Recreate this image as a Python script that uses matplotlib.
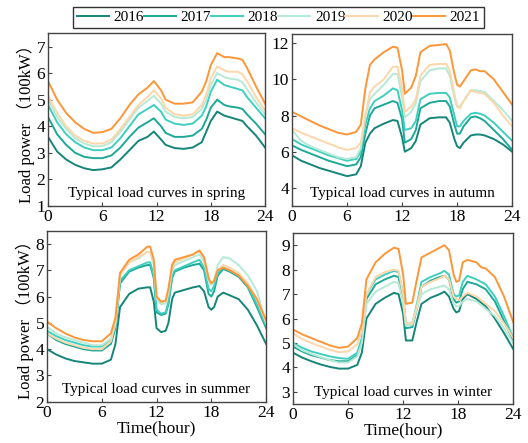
import numpy as np
import matplotlib
matplotlib.use("Agg")
import matplotlib.pyplot as plt

plt.rcParams['font.family'] = ['Liberation Serif', 'Noto Sans CJK SC']
plt.rcParams['mathtext.fontset'] = 'stix'

years = ["2016", "2017", "2018", "2019", "2020", "2021"]
colors = ["#15857a", "#1ea898", "#3ecfbf", "#b6e9d6", "#fdd6aa", "#fd9638"]

### spring ###
x_spring = [0, 1, 2, 3, 4, 5, 6, 7, 8, 9, 10, 11, 11.7, 12.5, 13, 14, 15, 16, 17, 17.5,
            18, 18.7, 19.5, 20, 21, 21.5, 22, 23, 24]
spring = [
    [3.6, 3.05, 2.75, 2.55, 2.42, 2.35, 2.38, 2.45, 2.75, 3.1, 3.45, 3.6, 3.8, 3.5, 3.3, 3.18, 3.15, 3.2, 3.4, 3.8, 4.2, 4.55, 4.4, 4.35, 4.25, 4.2, 4.0, 3.65, 3.2],
    [4.35, 3.7, 3.3, 3.0, 2.85, 2.8, 2.8, 2.9, 3.2, 3.6, 3.95, 4.15, 4.3, 4.0, 3.75, 3.6, 3.6, 3.65, 3.9, 4.25, 4.7, 5.0, 4.8, 4.75, 4.7, 4.65, 4.45, 4.1, 3.7],
    [4.8, 4.15, 3.7, 3.4, 3.2, 3.1, 3.1, 3.2, 3.55, 4.0, 4.45, 4.65, 4.8, 4.55, 4.25, 4.1, 4.05, 4.1, 4.4, 4.75, 5.3, 5.75, 5.55, 5.5, 5.4, 5.35, 5.1, 4.7, 4.3],
    [5.0, 4.35, 3.9, 3.55, 3.35, 3.25, 3.25, 3.4, 3.8, 4.25, 4.7, 4.95, 5.15, 4.85, 4.55, 4.35, 4.3, 4.35, 4.65, 5.0, 5.55, 6.0, 5.85, 5.8, 5.75, 5.65, 5.4, 4.9, 4.45],
    [5.15, 4.5, 4.0, 3.65, 3.45, 3.35, 3.35, 3.5, 3.9, 4.35, 4.8, 5.1, 5.35, 5.05, 4.7, 4.45, 4.4, 4.45, 4.8, 5.2, 5.8, 6.25, 6.1, 6.05, 6.05, 5.95, 5.7, 5.1, 4.6],
    [5.7, 5.0, 4.5, 4.15, 3.9, 3.75, 3.78, 3.9, 4.3, 4.8, 5.2, 5.45, 5.7, 5.35, 5.0, 4.85, 4.85, 4.9, 5.3, 5.7, 6.3, 6.75, 6.6, 6.6, 6.55, 6.5, 6.2, 5.5, 4.85],
]

### autumn ###
x_autumn = [0, 1, 2, 3, 4, 5, 6, 7, 7.5, 8, 8.5, 9, 10, 11, 11.5, 12, 12.3, 13, 13.5, 14,
            15, 16, 16.8, 17.2, 17.7, 18, 18.3, 18.7, 19.5, 20, 20.5, 21, 22, 23, 24]
autumn = [
    [5.8, 5.5, 5.3, 5.1, 4.95, 4.8, 4.65, 4.75, 5.2, 6.5, 7.0, 7.3, 7.55, 7.75, 7.7, 6.8, 6.0, 6.2, 6.6, 7.5, 7.85, 7.9, 7.9, 7.6, 6.7, 6.3, 6.2, 6.5, 6.9, 6.95, 6.95, 6.9, 6.7, 6.4, 6.0],
    [6.35, 6.1, 5.9, 5.7, 5.5, 5.35, 5.2, 5.3, 5.7, 7.0, 8.0, 8.4, 8.6, 8.8, 8.7, 7.8, 6.5, 6.7, 7.2, 8.4, 8.7, 8.8, 8.8, 8.5, 7.5, 7.0, 7.0, 7.4, 7.9, 7.95, 7.85, 7.7, 7.2, 6.7, 6.1],
    [6.7, 6.4, 6.2, 6.0, 5.8, 5.65, 5.5, 5.6, 6.0, 7.5, 8.4, 8.8, 9.1, 9.5, 9.4, 8.3, 7.2, 7.3, 7.7, 8.9, 9.2, 9.25, 9.25, 9.0, 8.0, 7.4, 7.4, 7.7, 8.1, 8.15, 8.1, 8.0, 7.6, 7.1, 6.6],
    [7.2, 6.6, 6.3, 6.1, 5.9, 5.7, 5.6, 5.7, 6.2, 8.0, 8.9, 9.2, 9.7, 10.3, 10.3, 9.0, 7.9, 8.2, 8.7, 9.9, 10.5, 10.6, 10.6, 10.2, 9.0, 8.5, 8.5, 8.8, 9.4, 9.4, 9.35, 9.3, 8.8, 8.3, 7.7],
    [7.3, 7.05, 6.85, 6.65, 6.45, 6.25, 6.1, 6.2, 6.5, 8.0, 9.3, 9.6, 10.0, 10.7, 10.7, 9.5, 8.2, 8.5, 8.9, 10.2, 10.8, 10.85, 10.85, 10.5, 9.2, 8.5, 8.4, 8.8, 9.4, 9.3, 9.25, 9.2, 8.7, 8.0, 7.4],
    [8.2, 7.95, 7.7, 7.45, 7.25, 7.05, 6.95, 7.1, 7.5, 9.5, 10.8, 11.1, 11.5, 11.8, 11.75, 10.5, 9.2, 9.55, 10.2, 11.5, 11.85, 11.9, 11.95, 11.6, 10.3, 9.7, 9.6, 9.9, 10.5, 10.55, 10.45, 10.45, 10.0, 9.3, 8.6],
]

### summer ###
x_summer = [0, 1, 2, 3, 4, 5, 6, 7, 7.5, 8, 9, 10, 11, 11.3, 11.7, 12, 12.5, 13, 13.3, 13.7,
            14, 15, 16, 16.7, 17.2, 17.7, 18, 18.3, 18.7, 19.3, 20, 21, 22, 23, 24]
summer = [
    [4.0, 3.8, 3.65, 3.55, 3.5, 3.45, 3.45, 3.6, 4.2, 5.6, 6.1, 6.3, 6.35, 6.35, 5.8, 4.8, 4.65, 4.7, 5.0, 5.9, 6.15, 6.25, 6.35, 6.4, 6.2, 5.6, 5.5, 5.6, 6.0, 6.15, 6.05, 5.9, 5.5, 4.9, 4.2],
    [4.6, 4.35, 4.2, 4.1, 4.0, 3.95, 3.95, 4.2, 4.8, 6.5, 6.95, 7.1, 7.2, 7.2, 6.7, 5.4, 5.3, 5.35, 5.7, 6.7, 6.95, 7.1, 7.2, 7.25, 7.0, 6.1, 6.0, 6.2, 6.8, 7.05, 6.95, 6.75, 6.35, 5.6, 4.8],
    [4.7, 4.5, 4.35, 4.25, 4.15, 4.1, 4.1, 4.35, 4.9, 6.6, 7.0, 7.15, 7.3, 7.3, 6.8, 5.5, 5.35, 5.4, 5.8, 6.8, 7.0, 7.15, 7.3, 7.4, 7.1, 6.3, 6.2, 6.4, 6.9, 7.1, 7.0, 6.8, 6.4, 5.7, 4.9],
    [4.85, 4.6, 4.45, 4.35, 4.25, 4.15, 4.15, 4.4, 5.0, 6.85, 7.3, 7.45, 7.7, 7.7, 7.2, 5.9, 5.7, 5.75, 6.1, 7.0, 7.2, 7.35, 7.5, 7.6, 7.35, 6.6, 6.45, 6.6, 7.2, 7.5, 7.45, 7.2, 6.8, 6.2, 5.0],
    [4.6, 4.4, 4.25, 4.15, 4.05, 4.0, 4.0, 4.3, 5.0, 6.8, 7.3, 7.5, 7.7, 7.7, 7.3, 6.0, 5.8, 5.8, 6.2, 7.1, 7.3, 7.45, 7.6, 7.75, 7.45, 6.7, 6.5, 6.6, 7.0, 7.2, 7.1, 6.9, 6.5, 5.9, 5.0],
    [5.05, 4.8, 4.6, 4.45, 4.35, 4.3, 4.3, 4.6, 5.2, 6.9, 7.4, 7.6, 7.9, 7.9, 7.4, 6.0, 5.8, 5.85, 6.3, 7.2, 7.4, 7.5, 7.6, 7.75, 7.5, 6.7, 6.5, 6.6, 7.0, 7.1, 7.0, 6.8, 6.4, 5.9, 5.1],
]

### winter ###
x_winter = [0, 1, 2, 3, 4, 5, 6, 7, 7.5, 8, 9, 10, 11, 11.5, 12, 12.3, 13, 13.5, 14, 15,
            16, 16.5, 17, 17.5, 17.8, 18.1, 18.5, 19, 20, 20.5, 21, 22, 23, 24]
winter = [
    [4.6, 4.4, 4.25, 4.12, 4.02, 3.95, 3.95, 4.1, 4.6, 6.0, 6.6, 6.85, 7.05, 7.0, 6.2, 5.1, 5.1, 5.9, 6.6, 6.85, 7.0, 7.1, 6.9, 6.4, 6.25, 6.3, 6.8, 7.0, 6.8, 6.65, 6.5, 6.0, 5.4, 4.75],
    [4.85, 4.65, 4.5, 4.4, 4.3, 4.25, 4.25, 4.5, 5.1, 6.8, 7.4, 7.6, 7.75, 7.7, 6.8, 5.6, 5.65, 6.4, 7.3, 7.55, 7.7, 7.75, 7.6, 6.8, 6.65, 6.7, 7.2, 7.5, 7.4, 7.3, 7.2, 6.7, 5.9, 5.1],
    [5.0, 4.8, 4.65, 4.55, 4.45, 4.38, 4.35, 4.6, 5.2, 7.0, 7.6, 7.8, 7.95, 7.9, 7.0, 5.8, 5.8, 6.6, 7.5, 7.7, 7.85, 7.95, 7.8, 7.0, 6.9, 6.95, 7.5, 7.75, 7.6, 7.5, 7.4, 6.9, 6.1, 5.2],
    [4.95, 4.7, 4.55, 4.42, 4.3, 4.2, 4.2, 4.45, 5.0, 6.6, 7.1, 7.3, 7.5, 7.45, 6.6, 5.7, 5.75, 6.4, 7.0, 7.2, 7.3, 7.35, 7.2, 6.6, 6.5, 6.5, 6.7, 6.8, 6.7, 6.55, 6.4, 6.1, 5.6, 5.0],
    [5.4, 5.15, 5.0, 4.85, 4.72, 4.62, 4.65, 4.95, 5.5, 7.0, 7.7, 7.9, 8.0, 7.95, 7.0, 5.8, 5.8, 6.5, 7.3, 7.5, 7.65, 7.75, 7.6, 6.9, 6.8, 6.75, 6.9, 7.05, 6.9, 6.75, 6.6, 6.3, 5.8, 5.2],
    [5.55, 5.35, 5.2, 5.05, 4.9, 4.8, 4.85, 5.2, 5.8, 7.6, 8.3, 8.65, 8.9, 8.85, 7.8, 6.6, 6.65, 7.6, 8.5, 8.7, 8.9, 9.0, 8.8, 7.8, 7.5, 7.55, 8.3, 8.4, 8.3, 8.1, 8.05, 7.7, 6.9, 5.85],
]

panels = [
    (x_spring, spring, "spring", (1, 7.5), [1, 2, 3, 4, 5, 6, 7], [0.091, 0.535, 0.411, 0.390]),
    (x_autumn, autumn, "autumn", (3, 12.5), [4, 6, 8, 10, 12], [0.553, 0.535, 0.417, 0.388]),
    (x_summer, summer, "summer", (2, 8.5), [2, 3, 4, 5, 6, 7, 8], [0.089, 0.093, 0.415, 0.386]),
    (x_winter, winter, "winter", (2.5, 9.5), [3, 4, 5, 6, 7, 8, 9], [0.555, 0.088, 0.417, 0.386]),
]

fig = plt.figure(figsize=(5.28, 4.43), dpi=100)
for i, (xs, series, season, ylim, yticks, pos) in enumerate(panels):
    ax = fig.add_axes(pos)
    for vals, c, yr in zip(series, colors, years):
        ax.plot(xs, vals, color=c, lw=1.4, label=yr)
    ax.set_xlim(0, 24)
    ax.set_ylim(*ylim)
    ax.set_xticks([0, 6, 12, 18, 24])
    ax.set_yticks(yticks)
    ax.tick_params(direction="in", labelsize=12.5, length=3, color="#444444", pad=2)
    for sp in ax.spines.values():
        sp.set_color("#444444")
        sp.set_linewidth(1.0)
    ax.text(0.5, 0.07, "Typical load curves in " + season, transform=ax.transAxes,
            ha="center", va="center", fontsize=11)
    if i % 2 == 0:
        ax.set_ylabel("Load power （100kW）", fontsize=12, labelpad=1)
    if i >= 2:
        ax.set_xlabel("Time(hour)", fontsize=12.5, labelpad=0)
    if i == 0:
        handles, labels = ax.get_legend_handles_labels()

fig.legend(handles, labels, loc="upper center", bbox_to_anchor=(0.527, 0.985), ncol=6,
           fontsize=11, frameon=True, fancybox=False, edgecolor="black",
           handlelength=2.1, handletextpad=0.3, columnspacing=0.0, borderpad=0.25,
           borderaxespad=0.0)

fig.savefig("out.png", dpi=100)
